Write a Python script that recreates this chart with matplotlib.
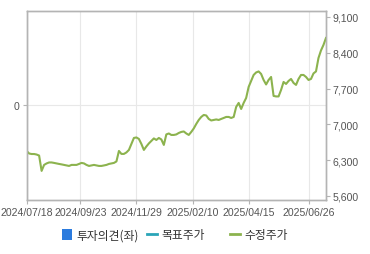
import matplotlib
matplotlib.use("Agg")
import matplotlib.pyplot as plt
from matplotlib.lines import Line2D
from matplotlib.patches import Patch

# Adjusted close price, sampled every 2nd trading day (2024/07/18 ~ 2025/07)
price = [6480, 6430, 6420, 6420, 6410, 6390, 6090, 6207, 6236, 6255,
         6255, 6246, 6236, 6226, 6217, 6207, 6197, 6187, 6207, 6207,
         6207, 6226, 6246, 6236, 6207, 6187, 6197, 6207, 6197, 6187,
         6187, 6197, 6207, 6226, 6236, 6246, 6275, 6480, 6422, 6422,
         6451, 6500, 6617, 6734, 6744, 6715, 6617, 6500, 6568, 6627,
         6676, 6725, 6695, 6734, 6705, 6598, 6803, 6822, 6793, 6793,
         6803, 6832, 6852, 6861, 6822, 6793, 6852, 6920, 7008, 7086,
         7145, 7184, 7174, 7106, 7076, 7086, 7096, 7086, 7106, 7125,
         7145, 7145, 7125, 7145, 7341, 7419, 7301, 7419, 7516, 7732,
         7849, 7966, 8015, 8035, 7986, 7868, 7780, 7868, 7927, 7556,
         7546, 7546, 7673, 7829, 7790, 7849, 7888, 7810, 7771, 7888,
         7966, 7966, 7927, 7868, 7888, 7996, 8035, 8298, 8445, 8553,
         8689]

# Date labels and where they fall in the sampled series
tick_pos = [0, 21.5, 44, 66.5, 89, 113]
tick_labels = ["2024/07/18", "2024/09/23", "2024/11/29",
               "2025/02/10", "2025/04/15", "2025/06/26"]

right_ticks = [5600, 6300, 7000, 7700, 8400, 9100]

legend_labels = ["투자의견(좌)", "목표주가", "수정주가"]

green = "#8cb34e"
spine_c = "#b4b4b4"
grid_c = "#e8e8e8"
text_c = "#555555"

fig = plt.figure(figsize=(3.7, 2.55), dpi=100)
ax = fig.add_axes([0.072, 0.212, 0.809, 0.741])
ax2 = ax.twinx()

# Left axis: investment opinion (empty), only the 0 line
ax.set_ylim(-1, 1)
ax.set_yticks([0])
ax.set_yticklabels(["0"])
ax.set_xlim(0, len(price) - 1)
ax.set_xticks(tick_pos)
ax.set_xticklabels(tick_labels)
ax.grid(True, color=grid_c, linewidth=0.8)
ax.set_axisbelow(True)

# Right axis: adjusted price
x = list(range(len(price)))
ax2.plot(x, price, color=green, linewidth=1.5)
ax2.set_ylim(5522, 9217)
ax2.set_yticks(right_ticks)
ax2.set_yticklabels([f"{v:,}" for v in right_ticks])

for a in (ax, ax2):
    for s in a.spines.values():
        s.set_color(spine_c)
        s.set_linewidth(1.0)
    a.tick_params(colors=spine_c, labelcolor=text_c, length=3, width=0.8,
                  labelsize=7.6, pad=2)
for lab in ax.get_xticklabels() + ax.get_yticklabels() + ax2.get_yticklabels():
    lab.set_family("Liberation Sans")

# Legend: one entry per slot, placed like the original
handles = [Patch(facecolor="#2b7bde", edgecolor="none"),
           Line2D([], [], color="#2aa5b8", linewidth=2),
           Line2D([], [], color=green, linewidth=2)]
slots = [62, 147, 230]
for h, lab, px in zip(handles, legend_labels, slots):
    fig.legend([h], [lab], loc="center left",
               bbox_to_anchor=(px / 370, 1 - 236 / 255),
               frameon=False, borderpad=0, borderaxespad=0,
               handlelength=0.85, handleheight=1.05, handletextpad=0.4,
               prop={"family": ["Noto Sans CJK KR", "DejaVu Sans"], "size": 8.5},
               labelcolor="#333333")

fig.savefig("out.png", dpi=100)
